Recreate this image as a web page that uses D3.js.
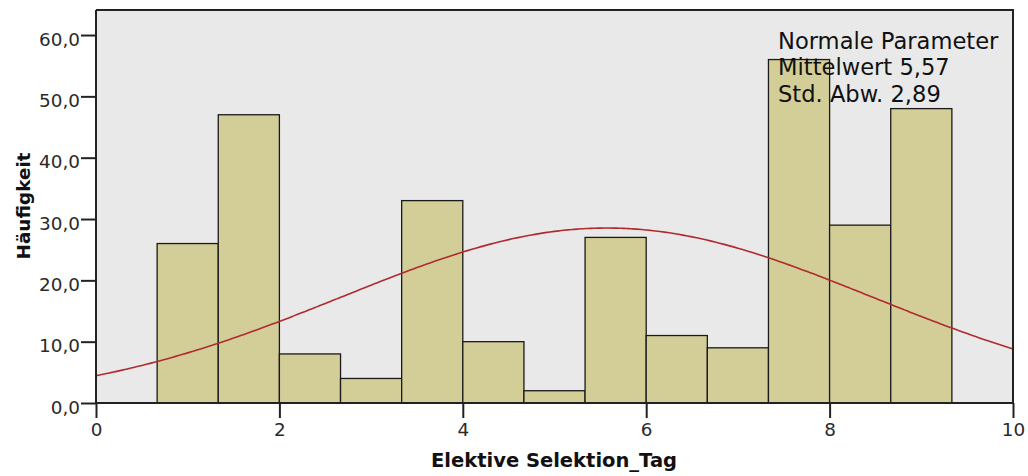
<!DOCTYPE html>
<html>
<head>
<meta charset="utf-8">
<script src="https://cdn.jsdelivr.net/npm/d3@7"></script>
<style>
  html, body { margin: 0; padding: 0; background: #ffffff; }
  svg { display: block; }
  text { font-family: "DejaVu Sans", Verdana, sans-serif; }
</style>
</head>
<body>
<svg id="chart" width="1028" height="476"></svg>
<script>
// Histogram bins (lower edges) and counts
const binStarts = [0.6667, 1.3333, 2.0, 2.6667, 3.3333, 4.0, 4.6667, 5.3333, 6.0, 6.6667, 7.3333, 8.0, 8.6667];
const binWidth = 0.6667;
const counts = [26, 47, 8, 4, 33, 10, 2, 27, 11, 9, 56, 29, 48];

// Normal fit parameters
const fitMean = 5.57;
const fitSd = 2.89;

// Axis ticks
const xTicks = [0, 2, 4, 6, 8, 10];
const yTicks = [0, 10, 20, 30, 40, 50, 60];

const legendLines = ["Normale Parameter", "Mittelwert 5,57", "Std. Abw. 2,89"];
const xTitle = "Elektive Selektion_Tag";
const yTitle = "Häufigkeit";

const svg = d3.select("#chart");
const plotLeft = 96, plotRight = 1013, plotTop = 10, plotBottom = 403;

const x = d3.scaleLinear().domain([0, 10]).range([plotLeft, plotRight]);
const y = d3.scaleLinear().domain([0, 64.08]).range([plotBottom, plotTop]);

// plot background
svg.append("rect")
  .attr("x", plotLeft).attr("y", plotTop)
  .attr("width", plotRight - plotLeft).attr("height", plotBottom - plotTop)
  .attr("fill", "#e9e9e9");

// bars
svg.append("g").selectAll("rect")
  .data(counts)
  .join("rect")
  .attr("x", (d, i) => x(binStarts[i]))
  .attr("y", d => y(d))
  .attr("width", (d, i) => x(binStarts[i] + binWidth) - x(binStarts[i]))
  .attr("height", d => y(0) - y(d))
  .attr("fill", "#d3ce98")
  .attr("stroke", "#1a1a1a")
  .attr("stroke-width", 1.3);

// fitted normal curve scaled to counts
const total = d3.sum(counts);
const pdf = v => Math.exp(-0.5 * Math.pow((v - fitMean) / fitSd, 2)) / (fitSd * Math.sqrt(2 * Math.PI));
const curvePts = d3.range(0, 10.0001, 0.05).map(v => [v, total * binWidth * pdf(v)]);
svg.append("path")
  .datum(curvePts)
  .attr("d", d3.line().x(d => x(d[0])).y(d => y(d[1])).curve(d3.curveMonotoneX))
  .attr("fill", "none")
  .attr("stroke", "#b02a30")
  .attr("stroke-width", 1.6);

// legend text
const legend = svg.append("g");
legend.selectAll("text")
  .data(legendLines)
  .join("text")
  .attr("x", 778)
  .attr("y", (d, i) => 48.5 + i * 26.7)
  .attr("font-size", 22.6)
  .attr("fill", "#111")
  .text(d => d);

// frame: top and right borders
svg.append("path")
  .attr("d", `M${plotLeft},${plotTop}H${plotRight}V${plotBottom}`)
  .attr("fill", "none")
  .attr("stroke", "#222")
  .attr("stroke-width", 2);

// axes
const fmtY = d => d3.format(".1f")(d).replace(".", ",");
const yAxis = svg.append("g")
  .attr("transform", `translate(${plotLeft},0)`)
  .call(d3.axisLeft(y).tickValues(yTicks).tickSize(15).tickPadding(1).tickFormat(fmtY));
const xAxis = svg.append("g")
  .attr("transform", `translate(0,${plotBottom})`)
  .call(d3.axisBottom(x).tickValues(xTicks).tickSize(15).tickPadding(5).tickFormat(d3.format("d")));

[yAxis, xAxis].forEach(g => {
  g.select(".domain").attr("stroke", "#222").attr("stroke-width", 2);
  g.selectAll(".tick line").attr("stroke", "#222").attr("stroke-width", 2);
  g.selectAll(".tick text")
    .attr("font-family", "\"DejaVu Sans\", Verdana, sans-serif")
    .attr("font-size", 18.4)
    .attr("fill", "#2a2a2a");
});
yAxis.selectAll(".tick text").attr("dy", "0.55em");
yAxis.select(".domain").attr("d", `M-0,${plotTop}V${plotBottom}`);
xAxis.select(".domain").attr("d", `M${plotLeft},0H${plotRight}`);

// axis titles
svg.append("text")
  .attr("x", 554)
  .attr("y", 467)
  .attr("text-anchor", "middle")
  .attr("font-size", 19.5)
  .attr("font-weight", "bold")
  .attr("fill", "#111")
  .text(xTitle);

svg.append("text")
  .attr("transform", `translate(30,206) rotate(-90)`)
  .attr("text-anchor", "middle")
  .attr("font-size", 18.4)
  .attr("font-weight", "bold")
  .attr("fill", "#111")
  .text(yTitle);
</script>
</body>
</html>
